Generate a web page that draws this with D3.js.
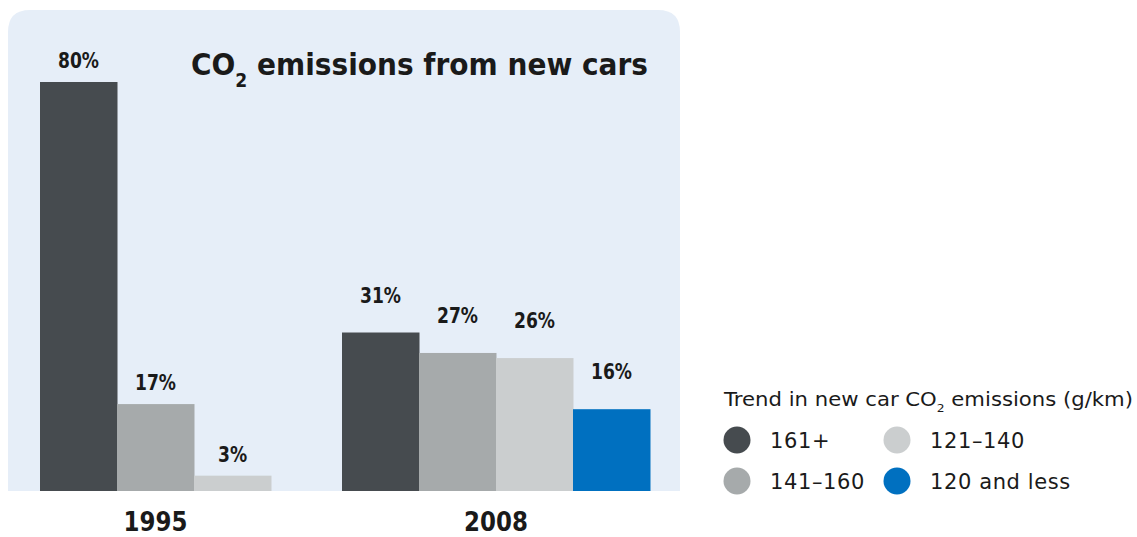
<!DOCTYPE html>
<html><head><meta charset="utf-8">
<script src="https://cdn.jsdelivr.net/npm/d3@7"></script>
<style>
html,body{margin:0;padding:0;background:#fff;}
text{font-family:"DejaVu Sans",sans-serif;fill:#1a1a1a;}
</style></head>
<body><svg id="c" width="1137" height="537"></svg>
<script>
const years = ["1995", "2008"];
const categories = ["161+", "141-160", "121-140", "120 and less"];
const values1995 = [80, 17, 3];
const values2008 = [31, 27, 26, 16];
const colors = ["#464b4f", "#a6aaab", "#cbcecf", "#0070c0"];

const svg = d3.select("#c");
const baseY = 491, topY = 82;
const y = d3.scaleLinear().domain([0, 80]).range([baseY, topY]);
const gx = d3.scaleLinear().domain([0, 1]).range([40, 342]);
const barW = 77;
const color = d3.scaleOrdinal().domain(categories).range(colors);

// panel
const px0 = 8, px1 = 680, py0 = 10, r = 22;
svg.append("path")
  .attr("d", `M${px0},${baseY} L${px0},${py0 + r} Q${px0},${py0} ${px0 + r},${py0} L${px1 - r},${py0} Q${px1},${py0} ${px1},${py0 + r} L${px1},${baseY} Z`)
  .attr("fill", "#e6eef8");

// title
const title = svg.append("text").attr("x", 191).attr("y", 75)
  .attr("font-size", 31).attr("font-weight", "bold");
title.append("tspan").text("CO");
title.append("tspan").attr("dy", 12).attr("font-size", 19).text("2");
title.append("tspan").attr("dy", -12).text(" emissions from new cars");
title.attr("textLength", 457).attr("lengthAdjust", "spacingAndGlyphs");

const groups = [{year: years[0], vals: values1995, off: 14}, {year: years[1], vals: values2008, off: 30}];
groups.forEach((g, gi) => {
  const data = g.vals.map((v, i) => ({cat: categories[i], v, i}));
  const gg = svg.append("g");
  gg.selectAll("rect").data(data).enter().append("rect")
    .attr("x", d => gx(gi) + d.i * barW)
    .attr("y", d => y(d.v))
    .attr("width", barW + 0.5)
    .attr("height", d => baseY - y(d.v))
    .attr("fill", d => color(d.cat));
  gg.selectAll("text.val").data(data).enter().append("text")
    .attr("class", "val")
    .attr("transform", d => `translate(${gx(gi) + d.i * barW + barW / 2},${y(d.v) - g.off}) scale(0.78,1)`)
    .attr("text-anchor", "middle")
    .attr("font-size", 22).attr("font-weight", "bold")
    .text(d => d.v + "%");
  const cx = gx(gi) + data.length * barW / 2;
  svg.append("text")
    .attr("transform", `translate(${cx},531) scale(0.85,1)`)
    .attr("text-anchor", "middle").attr("font-size", 27).attr("font-weight", "bold")
    .text(g.year);
});

// legend
const lt = svg.append("text").attr("x", 724).attr("y", 406).attr("font-size", 19);
lt.append("tspan").text("Trend in new car CO");
lt.append("tspan").attr("dy", 6).attr("font-size", 11).text("2");
lt.append("tspan").attr("dy", -6).text(" emissions (g/km)");
lt.attr("textLength", 409).attr("lengthAdjust", "spacingAndGlyphs");

const legPos = [[737, 440], [737, 481], [897, 440], [897, 481]];
categories.forEach((c, i) => {
  const [cx, cy] = legPos[i];
  svg.append("circle").attr("cx", cx).attr("cy", cy).attr("r", 13.5).attr("fill", color(c));
  svg.append("text").attr("x", cx + 33).attr("y", cy + 8).attr("font-size", 21)
    .attr("letter-spacing", 0.6)
    .text(c.replace("-", "–"));
});
</script></body></html>
